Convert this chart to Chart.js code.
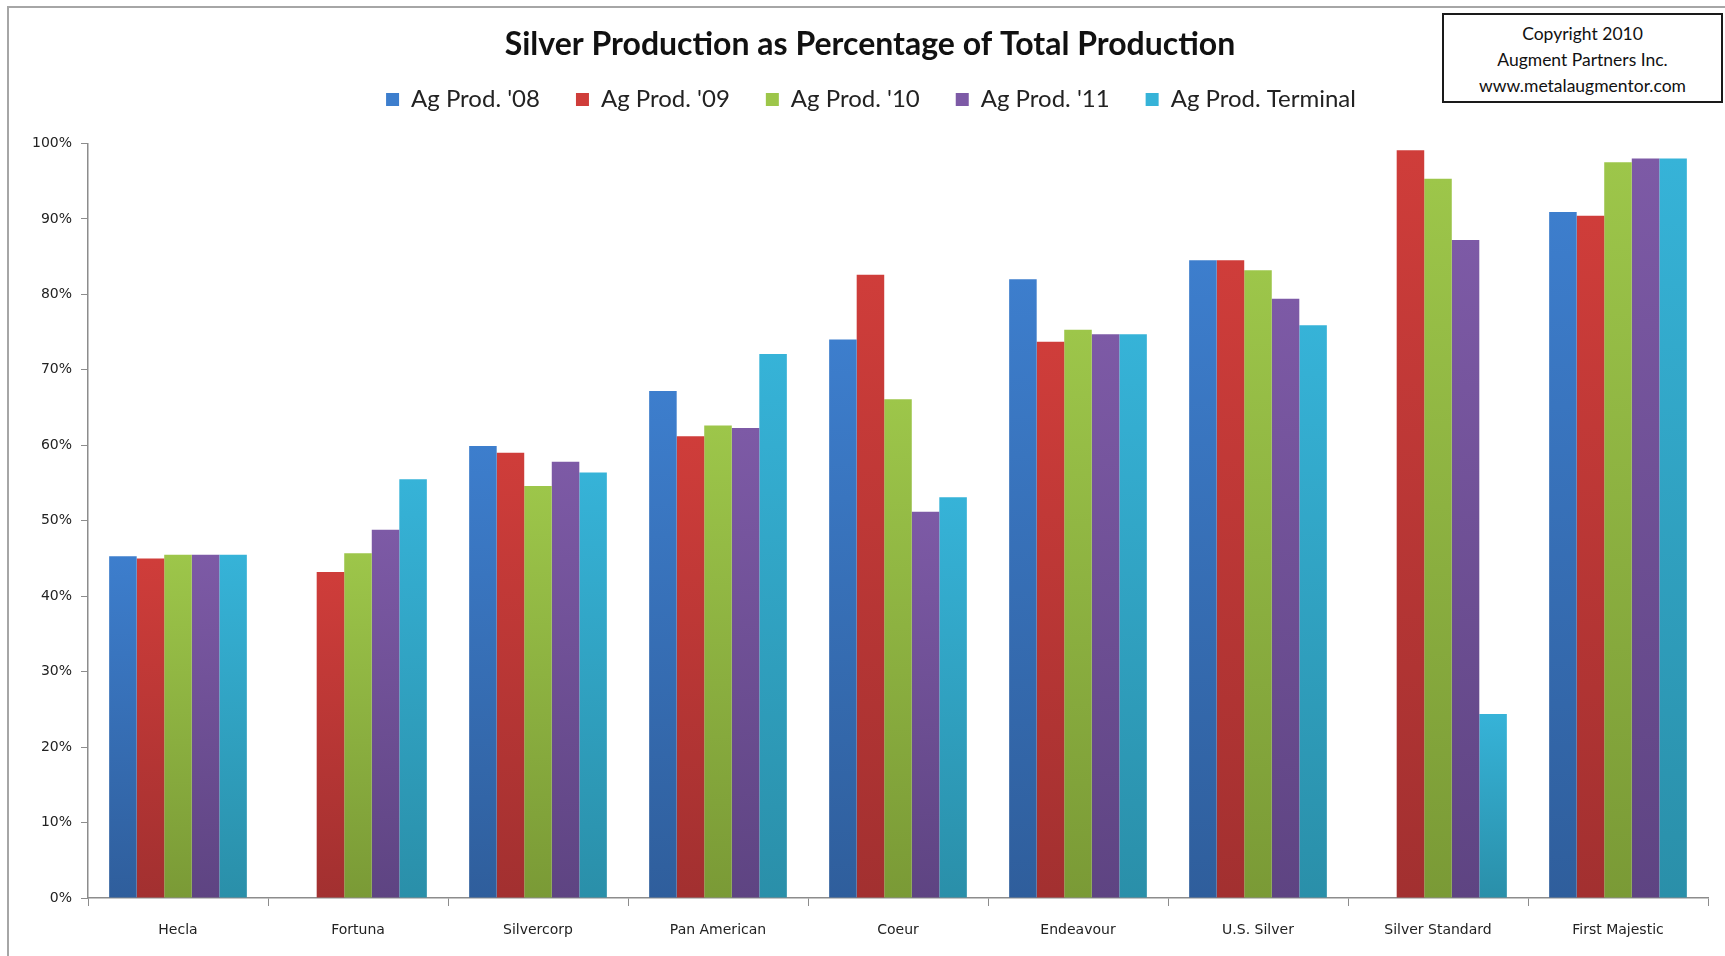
<!DOCTYPE html>
<html>
<head>
<meta charset="utf-8">
<script src="https://cdn.jsdelivr.net/npm/chart.js@4"></script>
<style>
  body { margin: 0; background: #fff; }
  #wrap { position: relative; width: 1725px; height: 956px; overflow: hidden; }
  #frame { position: absolute; left: 7px; top: 6px; right: -4px; bottom: -4px;
           border-top: 2px solid #a6a6a6; border-left: 2px solid #a6a6a6; }
  #chart { position: absolute; left: 0; top: 0; }
  #copy { position: absolute; left: 1442px; top: 13px; width: 277px; height: 80px;
          border: 2px solid #1a1a1a; background: #fff; box-sizing: content-box;
          font-family: Lato, sans-serif; font-size: 17.5px; line-height: 26px;
          text-align: center; padding-top: 6px; color: #111; }
</style>
</head>
<body>
<div id="wrap">
  <div id="frame"></div>
  <canvas id="chart" width="1725" height="956"></canvas>
  <div id="copy">Copyright 2010<br>Augment Partners Inc.<br>www.metalaugmentor.com</div>
</div>
<script>
const companies = ['Hecla', 'Fortuna', 'Silvercorp', 'Pan American', 'Coeur',
                   'Endeavour', 'U.S. Silver', 'Silver Standard', 'First Majestic'];
const seriesNames = ["Ag Prod. '08", "Ag Prod. '09", "Ag Prod. '10", "Ag Prod. '11", 'Ag Prod. Terminal'];

// values in percent (null = no bar)
const prod08 = [45.3, null, 59.9, 67.2, 74.0, 82.0, 84.5, null, 90.9];
const prod09 = [45.0, 43.2, 59.0, 61.2, 82.6, 73.7, 84.5, 99.1, 90.4];
const prod10 = [45.5, 45.7, 54.6, 62.6, 66.1, 75.3, 83.2, 95.3, 97.5];
const prod11 = [45.5, 48.8, 57.8, 62.3, 51.2, 74.7, 79.4, 87.2, 98.0];
const prodTerminal = [45.5, 55.5, 56.4, 72.1, 53.1, 74.7, 75.9, 24.4, 98.0];
const yTicks = [0, 10, 20, 30, 40, 50, 60, 70, 80, 90, 100];

const topColors = ['#3d7ecd', '#cf3d3a', '#9dc64a', '#7d5aa6', '#36b3d8'];
const bottomColors = ['#2f5e9c', '#a23030', '#7a9a36', '#5e4482', '#2a8fa9'];

function barFill(i) {
  return function (c) {
    const chart = c.chart;
    if (!chart.chartArea || c.raw == null || c.type !== 'data') return topColors[i];
    const y = chart.scales.y;
    const g = chart.ctx.createLinearGradient(0, y.getPixelForValue(c.raw), 0, y.getPixelForValue(0));
    g.addColorStop(0, topColors[i]);
    g.addColorStop(1, bottomColors[i]);
    return g;
  };
}

const allSeries = [prod08, prod09, prod10, prod11, prodTerminal];
const datasets = allSeries.map((vals, i) => ({
  label: seriesNames[i],
  data: vals,
  backgroundColor: barFill(i),
  borderWidth: 0,
  categoryPercentage: 0.765,
  barPercentage: 1.0
}));

// pull the legend up so there is a gap above the plot, and nudge title+legend right a touch
const headerNudge = {
  id: 'headerNudge',
  afterLayout(chart) {
    const lg = chart.legend, tb = chart.titleBlock;
    lg.top -= 22; lg.bottom -= 22;
    lg.left += 13; lg.right += 13;
    tb.left += 12; tb.right += 12;
  }
};

const axisGray = '#8c8c8c';

new Chart(document.getElementById('chart'), {
  type: 'bar',
  data: { labels: companies, datasets: datasets },
  plugins: [headerNudge],
  options: {
    responsive: false,
    animation: false,
    layout: { padding: { left: 8, right: 17, top: 0, bottom: 16 } },
    plugins: {
      title: {
        display: true,
        text: 'Silver Production as Percentage of Total Production',
        color: '#111',
        font: { family: 'Lato', size: 32, weight: 'bold' },
        padding: { top: 25, bottom: 10 }
      },
      legend: {
        display: true,
        labels: {
          color: '#222',
          font: { family: 'Lato', size: 24 },
          boxWidth: 13,
          boxHeight: 13,
          padding: 36
        }
      },
      tooltip: { enabled: false }
    },
    scales: {
      x: {
        grid: { display: true, drawOnChartArea: false, drawTicks: true, tickLength: 8,
                color: axisGray, offset: true },
        border: { display: true, color: axisGray, width: 1.5 },
        ticks: { color: '#222', font: { family: 'DejaVu Sans', size: 14 }, padding: 16 },
        afterFit(s) { s.height = 42; }
      },
      y: {
        min: 0,
        max: 100,
        afterBuildTicks(s) { s.ticks = yTicks.map(v => ({ value: v })); },
        grid: { display: true, drawOnChartArea: false, drawTicks: true, tickLength: 7,
                color: axisGray },
        border: { display: true, color: axisGray, width: 1.5 },
        ticks: { color: '#222', font: { family: 'DejaVu Sans', size: 14 }, padding: 9,
                 callback: v => v + '%' },
        afterFit(s) { s.width = 80; }
      }
    }
  }
});
</script>
</body>
</html>
